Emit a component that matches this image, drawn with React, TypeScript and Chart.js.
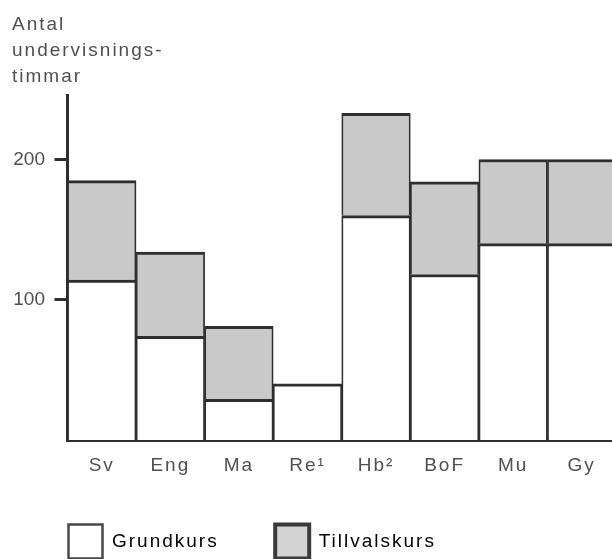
import { useEffect, useRef } from "react";
import { Chart, registerables } from "chart.js";

Chart.register(...registerables);

const categories = ["Sv", "Eng", "Ma", "Re¹", "Hb²", "BoF", "Mu", "Gy"];
const grundkurs = [114, 74, 29, 40, 160, 118, 140, 140];
const tillvalskurs = [71, 60, 52, null, 73, 66, 60, 60];
const yTicks = [100, 200];
const yMax = 246;
const seriesNames = ["Grundkurs", "Tillvalskurs"];
const titleLines = ["Antal", "undervisnings-", "timmar"];

const FONT = "'Liberation Sans', Arial, sans-serif";
const TEXT = "#505050";
const LINE = "#2e2e2e";
const GRAY = "#c9c9c9";

const spacingPlugin = {
  id: "letterSpacing",
  beforeUpdate(chart: any) {
    chart.ctx.letterSpacing = "2px";
  },
  beforeDraw(chart: any) {
    chart.ctx.letterSpacing = "2px";
  },
  afterDatasetsDraw(chart: any) {
    chart.ctx.letterSpacing = "0px";
  },
};

export default function App() {
  const ref = useRef<HTMLCanvasElement>(null);

  useEffect(() => {
    if (!ref.current) return;
    const barBorder = { top: 3, left: 1.75, right: 1.75, bottom: 0 };
    const chart = new Chart(ref.current, {
      type: "bar",
      data: {
        labels: categories,
        datasets: [
          {
            label: seriesNames[0],
            data: grundkurs,
            backgroundColor: "#ffffff",
            borderColor: LINE,
            borderWidth: barBorder as any,
            borderSkipped: "start",
            barPercentage: 1,
            categoryPercentage: 1,
          },
          {
            label: seriesNames[1],
            data: tillvalskurs as any,
            backgroundColor: GRAY,
            borderColor: LINE,
            borderWidth: barBorder as any,
            borderSkipped: "start",
            barPercentage: 1,
            categoryPercentage: 1,
          },
        ],
      },
      options: {
        animation: false,
        responsive: false,
        layout: { padding: { left: 12, top: 0, right: 0, bottom: 1.5 } },
        plugins: {
          tooltip: { enabled: false },
          title: {
            display: true,
            text: titleLines,
            align: "start",
            color: TEXT,
            font: { family: FONT, size: 19, weight: "normal", lineHeight: "26px" } as any,
            padding: { top: 12, bottom: 5 },
          },
          legend: {
            display: true,
            position: "bottom",
            align: "start",
            labels: {
              boxWidth: 34,
              boxHeight: 34,
              padding: 56.5,
              color: TEXT,
              font: { family: FONT, size: 19 },
              generateLabels: () => [
                {
                  text: seriesNames[0],
                  fillStyle: "#ffffff",
                  strokeStyle: "#474747",
                  lineWidth: 2.5,
                  hidden: false,
                  datasetIndex: 0,
                },
                {
                  text: seriesNames[1],
                  fillStyle: "#d3d3d3",
                  strokeStyle: "#3a3a3a",
                  lineWidth: 4,
                  hidden: false,
                  datasetIndex: 1,
                },
              ],
            },
          },
        },
        scales: {
          x: {
            stacked: true,
            grid: { display: false, drawTicks: false },
            border: { display: true, width: 3, color: LINE },
            ticks: {
              mirror: true,
              padding: -37,
              color: TEXT,
              font: { family: FONT, size: 19 },
              autoSkip: false,
              maxRotation: 0,
            },
            afterFit: (scale: any) => {
              scale.height = 28;
            },
          },
          y: {
            stacked: true,
            min: 0,
            max: yMax,
            afterBuildTicks: (scale: any) => {
              scale.ticks = yTicks.map((v) => ({ value: v }));
            },
            grid: {
              display: true,
              drawOnChartArea: false,
              drawTicks: true,
              tickLength: 13,
              tickWidth: 3,
              tickColor: LINE,
              color: LINE,
            },
            border: { display: true, width: 3, color: LINE },
            ticks: {
              z: 1,
              padding: 9.5,
              color: TEXT,
              font: { family: FONT, size: 19 },
            },
            afterFit: (scale: any) => {
              scale.width = 55.5;
            },
          },
        },
      },
      plugins: [spacingPlugin],
    });
    return () => chart.destroy();
  }, []);

  return (
    <div
      style={{
        position: "fixed",
        left: 0,
        top: 0,
        width: 612,
        height: 559,
        overflow: "hidden",
        background: "#ffffff",
      }}
    >
      <canvas ref={ref} width={616} height={570} style={{ display: "block" }} />
    </div>
  );
}
